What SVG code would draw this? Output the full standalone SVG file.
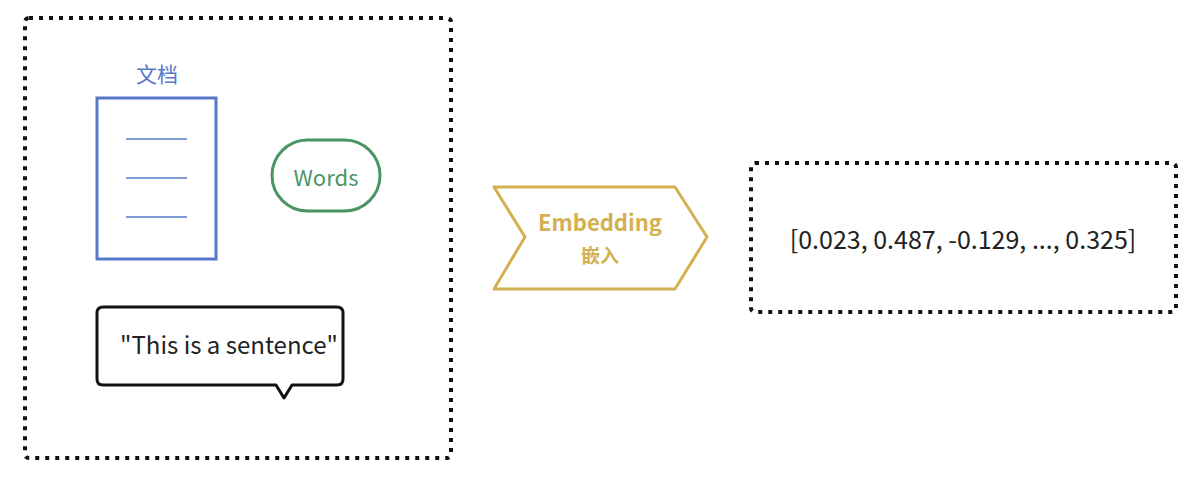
<svg xmlns="http://www.w3.org/2000/svg" width="1198" height="481" viewBox="0 0 1198 481">
<style>
.dot{fill:none;stroke:#111;stroke-width:4;stroke-dasharray:4 6;}
text{font-family:"Noto Sans CJK SC","Noto Sans",sans-serif;}
</style>
<rect width="1198" height="481" fill="#fff"/>
<g id="container"><rect class="dot" x="25" y="18" width="426" height="440" rx="4"/></g>
<g id="doc">
<text x="157" y="82" font-size="21" fill="#5578c8" text-anchor="middle">文档</text>
<rect x="97" y="98" width="119" height="161" fill="none" stroke="#5578c8" stroke-width="3"/>
<path d="M126 139H187M126 178H187M126 217H187" stroke="#5578c8" stroke-width="1.5"/>
</g>
<g id="words">
<rect x="272" y="140" width="108" height="71" rx="35.5" fill="none" stroke="#4b9463" stroke-width="3"/>
<text x="326" y="186" font-size="22" fill="#4b9463" text-anchor="middle">Words</text>
</g>
<g id="sentence">
<path d="M103 307H337Q343 307 343 313V379Q343 385 337 385H292L284 398L276 385H103Q97 385 97 379V313Q97 307 103 307Z" fill="none" stroke="#111" stroke-width="3" stroke-linejoin="round"/>
<text x="229" y="354" font-size="24" fill="#222" text-anchor="middle">"This is a sentence"</text>
</g>
<g id="embedding">
<path d="M494 187H675L707 237L675 289H494L525 237Z" fill="none" stroke="#d4b050" stroke-width="3" stroke-linejoin="round"/>
<text x="600" y="231" font-size="22" font-weight="bold" fill="#d4b050" text-anchor="middle">Embedding</text>
<text x="600" y="263" font-size="19" font-weight="bold" fill="#d4b050" text-anchor="middle">嵌入</text>
</g>
<g id="vector">
<rect class="dot" x="751" y="163" width="425" height="149" rx="4"/>
<text x="963" y="249" font-size="25" fill="#222" text-anchor="middle">[0.023, 0.487, -0.129, ..., 0.325]</text>
</g>
<g id="connectors"></g>
</svg>
